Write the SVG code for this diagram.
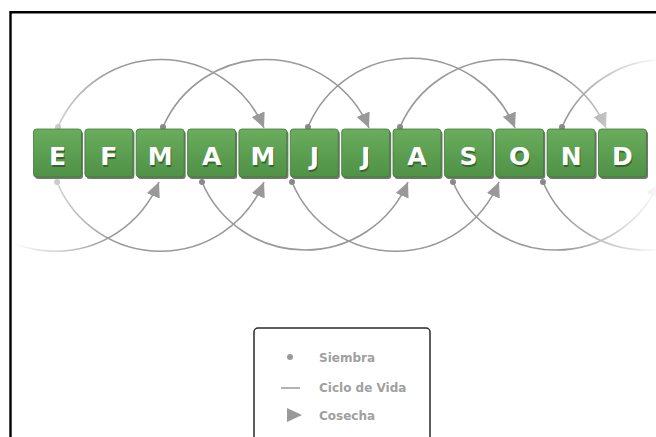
<svg xmlns="http://www.w3.org/2000/svg" width="656" height="437" viewBox="0 0 656 437">
<style>
.box{fill:url(#boxGrad);stroke:#3f7a36;stroke-width:0.8}
.bsh{fill:#4a4a4a;opacity:0.75}
.lbl{font-family:"DejaVu Sans",Verdana,sans-serif;font-weight:bold;font-size:25px;fill:#ffffff;text-anchor:middle}
.lsh{font-family:"DejaVu Sans",Verdana,sans-serif;font-weight:bold;font-size:25px;fill:#2e5a28;text-anchor:middle;opacity:0.8}
.arc{fill:none;stroke:#999999;stroke-width:1.6}
.top{marker-end:url(#arrow)}
.bot{marker-end:url(#arrow)}
.dot{fill:#8a8a8a}
.leg{font-family:"DejaVu Sans",Verdana,sans-serif;font-weight:bold;font-size:12px;fill:#a0a0a0}
</style>
<defs>
<linearGradient id="boxGrad" x1="0" y1="0" x2="0" y2="1">
<stop offset="0" stop-color="#6aad5e"/>
<stop offset="1" stop-color="#4f9145"/>
</linearGradient>
<linearGradient id="fadeGrad" gradientUnits="userSpaceOnUse" x1="0" y1="0" x2="656" y2="0">
<stop offset="0.02" stop-color="#000"/>
<stop offset="0.06" stop-color="#444"/>
<stop offset="0.17" stop-color="#fff"/>
<stop offset="0.86" stop-color="#fff"/>
<stop offset="1" stop-color="#111"/>
</linearGradient>
<mask id="fade" maskUnits="userSpaceOnUse" x="0" y="0" width="656" height="437">
<rect x="0" y="0" width="656" height="437" fill="url(#fadeGrad)"/>
</mask>
<marker id="arrow" markerUnits="userSpaceOnUse" markerWidth="16" markerHeight="14" refX="15" refY="7" orient="auto" viewBox="0 0 16 14">
<path d="M0,0 L15,7 L0,14 z" fill="#999999"/>
</marker>
</defs>
<rect x="0" y="0" width="656" height="437" fill="#ffffff"/>
<g id="frame">
<path d="M10.5,437 L10.5,12.3 L656,12.3" fill="none" stroke="#000" stroke-width="2.4"/>
</g>
<g id="connectors" mask="url(#fade)">
<path class="arc top" d="M58,127 A112,112 0 0 1 264,128"/>
<path class="arc top" d="M163,127 A112,112 0 0 1 369,128"/>
<path class="arc top" d="M308,127 A112,112 0 0 1 515,128"/>
<path class="arc top" d="M400,127 A112,112 0 0 1 606,128"/>
<path class="arc top" d="M562,127 A112,112 0 0 1 768,128"/>
<path class="arc bot" d="M-48,182 A112,112 0 0 0 159,182"/>
<path class="arc bot" d="M57,182 A112,112 0 0 0 264,182"/>
<path class="arc bot" d="M202,182 A112,112 0 0 0 408,182"/>
<path class="arc bot" d="M292,182 A112,112 0 0 0 499,182"/>
<path class="arc bot" d="M453,182 A112,112 0 0 0 659,182"/>
<path class="arc bot" d="M543,182 A112,112 0 0 0 749,182"/>
<circle class="dot" cx="58" cy="127" r="3"/>
<circle class="dot" cx="163" cy="127" r="3"/>
<circle class="dot" cx="308" cy="127" r="3"/>
<circle class="dot" cx="400" cy="127" r="3"/>
<circle class="dot" cx="562" cy="127" r="3"/>
<circle class="dot" cx="57" cy="182" r="3"/>
<circle class="dot" cx="202" cy="182" r="3"/>
<circle class="dot" cx="292" cy="182" r="3"/>
<circle class="dot" cx="453" cy="182" r="3"/>
<circle class="dot" cx="543" cy="182" r="3"/>
</g>
<g id="node-E"><rect class="bsh" x="35" y="131" width="48" height="48" rx="3"/><rect class="box" x="33.5" y="129" width="48" height="48" rx="3"/><text class="lsh" x="58.5" y="166.5">E</text><text class="lbl" x="57.5" y="165">E</text></g>
<g id="node-F"><rect class="bsh" x="86.4" y="131" width="48" height="48" rx="3"/><rect class="box" x="84.9" y="129" width="48" height="48" rx="3"/><text class="lsh" x="109.9" y="166.5">F</text><text class="lbl" x="108.9" y="165">F</text></g>
<g id="node-M1"><rect class="bsh" x="137.7" y="131" width="48" height="48" rx="3"/><rect class="box" x="136.2" y="129" width="48" height="48" rx="3"/><text class="lsh" x="161.2" y="166.5">M</text><text class="lbl" x="160.2" y="165">M</text></g>
<g id="node-A1"><rect class="bsh" x="189.1" y="131" width="48" height="48" rx="3"/><rect class="box" x="187.6" y="129" width="48" height="48" rx="3"/><text class="lsh" x="212.6" y="166.5">A</text><text class="lbl" x="211.6" y="165">A</text></g>
<g id="node-M2"><rect class="bsh" x="240.4" y="131" width="48" height="48" rx="3"/><rect class="box" x="238.9" y="129" width="48" height="48" rx="3"/><text class="lsh" x="263.9" y="166.5">M</text><text class="lbl" x="262.9" y="165">M</text></g>
<g id="node-J1"><rect class="bsh" x="291.8" y="131" width="48" height="48" rx="3"/><rect class="box" x="290.3" y="129" width="48" height="48" rx="3"/><text class="lsh" x="315.3" y="166.5">J</text><text class="lbl" x="314.3" y="165">J</text></g>
<g id="node-J2"><rect class="bsh" x="343.2" y="131" width="48" height="48" rx="3"/><rect class="box" x="341.7" y="129" width="48" height="48" rx="3"/><text class="lsh" x="366.7" y="166.5">J</text><text class="lbl" x="365.7" y="165">J</text></g>
<g id="node-A2"><rect class="bsh" x="394.5" y="131" width="48" height="48" rx="3"/><rect class="box" x="393" y="129" width="48" height="48" rx="3"/><text class="lsh" x="418" y="166.5">A</text><text class="lbl" x="417" y="165">A</text></g>
<g id="node-S"><rect class="bsh" x="445.9" y="131" width="48" height="48" rx="3"/><rect class="box" x="444.4" y="129" width="48" height="48" rx="3"/><text class="lsh" x="469.4" y="166.5">S</text><text class="lbl" x="468.4" y="165">S</text></g>
<g id="node-O"><rect class="bsh" x="497.2" y="131" width="48" height="48" rx="3"/><rect class="box" x="495.7" y="129" width="48" height="48" rx="3"/><text class="lsh" x="520.7" y="166.5">O</text><text class="lbl" x="519.7" y="165">O</text></g>
<g id="node-N"><rect class="bsh" x="548.6" y="131" width="48" height="48" rx="3"/><rect class="box" x="547.1" y="129" width="48" height="48" rx="3"/><text class="lsh" x="572.1" y="166.5">N</text><text class="lbl" x="571.1" y="165">N</text></g>
<g id="node-D"><rect class="bsh" x="600" y="131" width="48" height="48" rx="3"/><rect class="box" x="598.5" y="129" width="48" height="48" rx="3"/><text class="lsh" x="623.5" y="166.5">D</text><text class="lbl" x="622.5" y="165">D</text></g>
<g id="legend">
<rect x="254" y="328" width="176" height="120" rx="4" fill="#fff" stroke="#2a2a2a" stroke-width="1.5"/>
<circle cx="290" cy="357" r="3" fill="#999"/>
<text class="leg" x="319" y="362">Siembra</text>
<line x1="281" y1="388" x2="300" y2="388" stroke="#999" stroke-width="1.5"/>
<text class="leg" x="319" y="392">Ciclo de Vida</text>
<path d="M287,408 L302,415 L287,422 z" fill="#999"/>
<text class="leg" x="319" y="420">Cosecha</text>
</g>
</svg>
